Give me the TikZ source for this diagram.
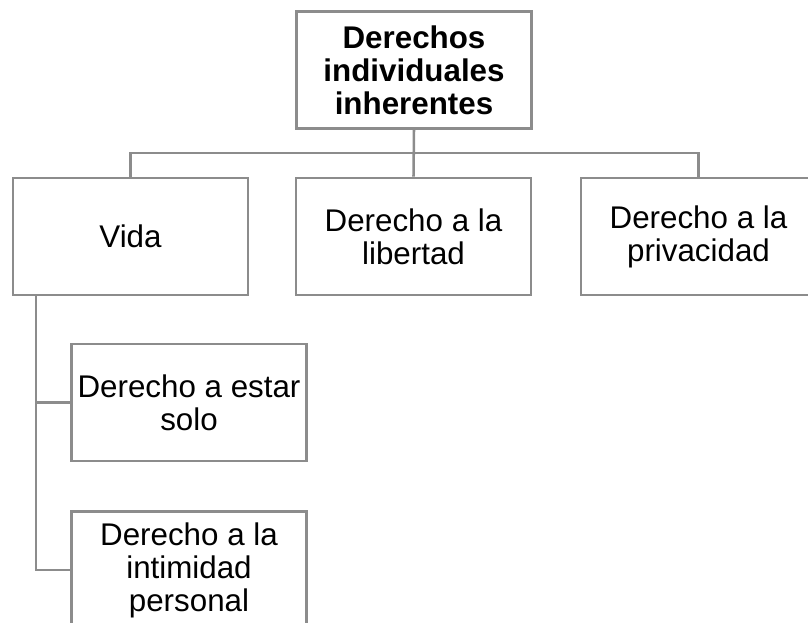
\documentclass[tikz,border=0pt]{standalone}
\usepackage{fontspec}
\setmainfont{Liberation Sans}
\usepackage{amssymb,amsmath}

\tikzset{
  caja/.style={rectangle,draw=linea,line width=1.9pt,fill=white,minimum width=176.25pt,
    minimum height=87.75pt,align=center,inner sep=2pt,
    font=\fontsize{23.5}{24.75}\selectfont},
  rama/.style={draw=linea,line width=1.9pt}
}
\definecolor{linea}{RGB}{140,140,140}

\begin{document}
\begin{tikzpicture}[x=0.75pt,y=-0.75pt]
        \useasboundingbox (0,0) rectangle (808,623);
        \clip (0,0) rectangle (808,623);
        \node[caja] (der) at (414,70) {\textbf{Derechos}\\\textbf{individuales}\\\textbf{inherentes}};
        \node[caja] (vida) at (130.5,236.5) {Vida};
        \node[caja] (lib) at (413.5,236.5) {Derecho a la\\libertad};
        \node[caja] (priv) at (698.5,236.5) {Derecho a la\\privacidad};
        \node[caja] (solo) at (189,402.5) {Derecho a estar\\solo};
        \node[caja] (intim) at (189,570) {Derecho a la\\intimidad\\personal};
        \coordinate (bus) at (414,153);
        \coordinate (pie) at (36,295);
        % conectores
        \draw[rama] (der.south) -- (lib.north);
        \draw[rama] (vida.north) |- (bus) -| (priv.north);
        \draw[rama] (pie) |- (solo.west);
        \draw[rama] (pie) |- (intim.west);
        \end{tikzpicture}
\end{document}
